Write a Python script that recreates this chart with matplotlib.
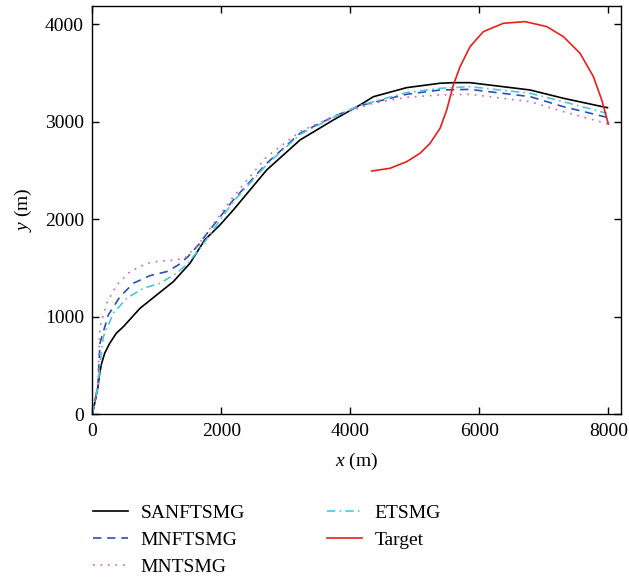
import numpy as np
import matplotlib
matplotlib.use("Agg")
import matplotlib.pyplot as plt

plt.rcParams["font.family"] = "Liberation Serif"
plt.rcParams["mathtext.fontset"] = "custom"
plt.rcParams["mathtext.it"] = "Liberation Serif:italic"
plt.rcParams["mathtext.rm"] = "Liberation Serif"

# data (x, y in metres)
sanftsmg_x = [0, 37, 88, 115, 140, 192, 270, 372, 481, 740, 998, 1256, 1515, 1743, 1980, 2186,
              2704, 3220, 3736, 4150, 4357, 4874, 5391, 5597, 5856, 6786, 7302, 7949, 7985]
sanftsmg_y = [0, 113, 283, 420, 510, 626, 728, 831, 898, 1087, 1224, 1360, 1549, 1788, 1942, 2095,
              2506, 2813, 3018, 3172, 3257, 3350, 3395, 3401, 3401, 3326, 3241, 3149, 3145]

mnftsmg_x = [0, 37, 88, 119, 248, 429, 636, 895, 1153, 1333, 1484, 1690, 1721,
             2186, 2704, 3220, 3736, 4150, 4874, 5391, 5856, 6786, 7302, 7975]
mnftsmg_y = [0, 113, 300, 728, 1018, 1206, 1344, 1422, 1463, 1531, 1617, 1770, 1805,
             2198, 2574, 2882, 3052, 3165, 3282, 3326, 3332, 3258, 3155, 3046]

mntsmg_x = [0, 37, 88, 119, 223, 378, 584, 843, 1050, 1225, 1432, 1639, 2186, 2704,
            3220, 3736, 4357, 4874, 5391, 5856, 6786, 7302, 8000]
mntsmg_y = [0, 113, 320, 898, 1138, 1326, 1463, 1549, 1572, 1578, 1600, 1736, 2232, 2642,
            2899, 3055, 3190, 3251, 3275, 3282, 3206, 3104, 2977]

etsmg_x = [0, 37, 88, 130, 171, 326, 533, 791, 1050, 1308, 1484, 1690, 2186, 2704, 3220,
           3736, 4150, 4874, 5391, 5856, 6786, 7302, 7975]
etsmg_y = [0, 113, 290, 560, 796, 1036, 1190, 1292, 1344, 1446, 1549, 1719, 2181, 2560, 2870,
           3045, 3168, 3299, 3343, 3360, 3292, 3206, 3087]

target_x = [4331, 4616, 4874, 5081, 5236, 5391, 5494, 5597, 5701, 5856, 6062, 6373,
            6709, 7044, 7303, 7561, 7768, 7897, 8000]
target_y = [2495, 2523, 2591, 2677, 2779, 2933, 3121, 3377, 3565, 3771, 3924, 4010,
            4027, 3976, 3873, 3702, 3463, 3224, 2977]

fig = plt.figure(figsize=(6.29, 5.78), dpi=100)
ax = fig.add_axes([0.1467, 0.2832, 0.840, 0.7069])

ax.plot(sanftsmg_x, sanftsmg_y, color="black", lw=1.2, label="SANFTSMG")
ax.plot(mnftsmg_x, mnftsmg_y, color="#2f4fb0", lw=1.2, dashes=(5, 3.5), label="MNFTSMG")
ax.plot(mntsmg_x, mntsmg_y, color="#d45fc4", lw=1.2, dashes=(1, 3.5), label="MNTSMG")
ax.plot(etsmg_x, etsmg_y, color="#4cc6dd", lw=1.2, dashes=(5, 2.5, 1, 2.5), label="ETSMG")
ax.plot(target_x, target_y, color="#e8201c", lw=1.2, label="Target")

ax.set_xlim(0, 8190)
ax.set_ylim(0, 4190)
ax.set_xticks([0, 2000, 4000, 6000, 8000])
ax.set_yticks([0, 1000, 2000, 3000, 4000])
ax.tick_params(direction="in", top=True, right=True, length=5, width=1, labelsize=14, pad=6)
for s in ax.spines.values():
    s.set_linewidth(1.0)
ax.set_xlabel("$x$ (m)", fontsize=14, labelpad=8)
ax.set_ylabel("$y$ (m)", fontsize=14, labelpad=8)

fig.legend(loc="upper left", bbox_to_anchor=(0.148, 0.128), ncol=2, frameon=False,
           fontsize=14, handlelength=1.8, handletextpad=0.65, columnspacing=4.2,
           labelspacing=0.48, borderaxespad=0, borderpad=0)

fig.savefig("out.png", dpi=100)
